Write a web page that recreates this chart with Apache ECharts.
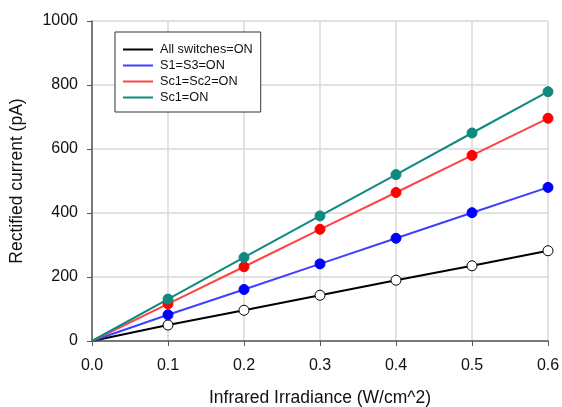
<!DOCTYPE html>
<html><head><meta charset="utf-8">
<script src="https://cdn.jsdelivr.net/npm/echarts@6/dist/echarts.min.js"></script>
<style>html,body{margin:0;padding:0;background:#fff}#c{width:562px;height:407px}</style>
</head><body><div id="c"></div>
<script>
const irradiance = [0, 0.1, 0.2, 0.3, 0.4, 0.5, 0.6];
const allSwitchesOn = [0, 50, 96, 143, 190, 235, 282];
const s1s3On = [0, 82, 161, 241, 321, 401, 480];
const sc1sc2On = [0, 116, 232, 349, 464, 580, 696];
const sc1On = [0, 131, 261, 391, 520, 650, 779];
const seriesNames = ['All switches=ON', 'S1=S3=ON', 'Sc1=Sc2=ON', 'Sc1=ON'];

const pair = v => irradiance.map((x, i) => [x, v[i]]);
const font = '"Liberation Sans", Arial, sans-serif';
const symSize = (v, p) => p.dataIndex === 0 ? 0 : 10;

function mk(name, values, lineColor, fill, border) {
  return {
    name, type: 'line', data: pair(values),
    symbol: 'circle', symbolSize: symSize,
    lineStyle: { color: lineColor, width: 2 },
    itemStyle: { color: fill, borderColor: border, borderWidth: 1 },
    emphasis: { disabled: true }, animation: false
  };
}

const chart = echarts.init(document.getElementById('c'), null, { renderer: 'canvas' });
chart.setOption({
  animation: false,
  grid: { left: 92, right: 14, top: 21, bottom: 66, containLabel: false, outerBoundsMode: 'none' },
  xAxis: {
    type: 'value', min: 0, max: 0.6, interval: 0.1,
    name: 'Infrared Irradiance (W/cm^2)', nameLocation: 'middle', nameGap: 48,
    nameTextStyle: { fontFamily: font, fontSize: 17.5, color: '#111' },
    axisLine: { show: true, lineStyle: { color: '#555', width: 1.5 } },
    axisTick: { show: true, length: 5, lineStyle: { color: '#555' } },
    axisLabel: { fontFamily: font, fontSize: 16, color: '#111', margin: 17, formatter: v => v.toFixed(1) },
    splitLine: { show: true, lineStyle: { color: '#d8d8d8', width: 1.5 } }
  },
  yAxis: {
    type: 'value', min: 0, max: 1000, interval: 200,
    name: 'Rectified current (pA)', nameLocation: 'middle', nameGap: 66,
    nameTextStyle: { fontFamily: font, fontSize: 17.5, color: '#111' },
    axisLine: { show: true, lineStyle: { color: '#555', width: 1.5 } },
    axisTick: { show: true, length: 5, lineStyle: { color: '#555' } },
    axisLabel: { fontFamily: font, fontSize: 16, color: '#111', margin: 14, formatter: v => String(v) },
    splitLine: { show: true, lineStyle: { color: '#d8d8d8', width: 1.5 } }
  },
  legend: {
    orient: 'vertical', left: 115, top: 32,
    padding: [11, 8, 8, 8], itemGap: 3, itemWidth: 30, itemHeight: 13,
    borderColor: '#333', borderWidth: 1, backgroundColor: '#fff',
    icon: 'path://M0,6 L30,6 L30,8 L0,8 Z',
    textStyle: { fontFamily: font, fontSize: 12.7, color: '#111', padding: [0, 0, 0, 2] },
    data: [
      { name: seriesNames[0], itemStyle: { color: '#000', borderWidth: 0 } },
      { name: seriesNames[1], itemStyle: { color: '#3f3fff', borderWidth: 0 } },
      { name: seriesNames[2], itemStyle: { color: '#ff4444', borderWidth: 0 } },
      { name: seriesNames[3], itemStyle: { color: '#108a80', borderWidth: 0 } }
    ]
  },
  series: [
    mk(seriesNames[0], allSwitchesOn, '#000', '#fff', '#000'),
    mk(seriesNames[1], s1s3On, '#3f3fff', '#0000ff', '#0000ff'),
    mk(seriesNames[2], sc1sc2On, '#ff4444', '#ff0000', '#ff0000'),
    mk(seriesNames[3], sc1On, '#108a80', '#108a80', '#108a80')
  ]
});
</script></body></html>
